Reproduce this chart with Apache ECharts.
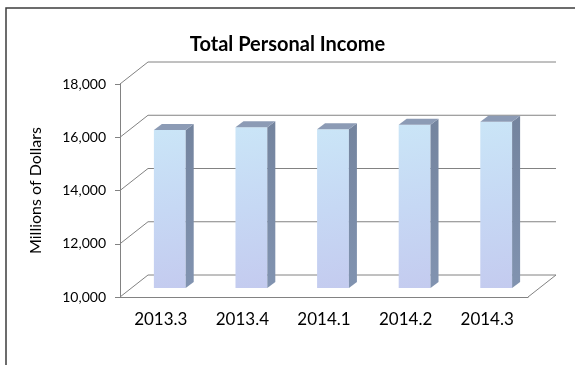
<!DOCTYPE html>
<html>
<head>
<meta charset="utf-8">
<script src="https://cdn.jsdelivr.net/npm/echarts@6/dist/echarts.min.js"></script>
<style>
  html, body { margin: 0; padding: 0; background: #fff; }
  #chart { width: 575px; height: 365px; }
</style>
</head>
<body>
<div id="chart"></div>
<script>
// Quarterly total personal income, millions of dollars
const quarters = ['2013.3', '2013.4', '2014.1', '2014.2', '2014.3'];
const income = [15930, 16040, 15960, 16130, 16240];
const yTicks = [10000, 12000, 14000, 16000, 18000];

const FONT = 'Lato, "Open Sans", sans-serif';
const GRID_COLOR = '#828282';

// oblique projection of the chart's depth
const WALL_DX = 28, WALL_DY = -22;   // back wall offset
const BAR_OX = 9, BAR_OY = -9;       // bar front face offset
const BAR_DX = 8, BAR_DY = -6;       // bar depth

const chart = echarts.init(document.getElementById('chart'), null, { renderer: 'canvas' });

function renderWall(params, api) {
  const cs = params.coordSys;
  const v = api.value(1);
  const y = api.coord([0, v])[1];
  const left = cs.x, right = cs.x + cs.width;
  const pts = [[left, y], [left + WALL_DX, y + WALL_DY], [right + WALL_DX, y + WALL_DY]];
  if (v === yTicks[0]) pts.push([right, y]);
  return {
    type: 'polyline',
    shape: { points: pts },
    style: { stroke: GRID_COLOR, lineWidth: 1, fill: null },
    silent: true
  };
}

function renderBar(params, api) {
  const i = api.value(0);
  const v = api.value(1);
  const base = api.coord([i, yTicks[0]]);
  const top = api.coord([i, v]);
  const band = api.size([1, 0])[0];
  const w = band * 0.39;
  const fl = base[0] - w / 2 + BAR_OX;
  const fr = fl + w;
  const ft = top[1] + BAR_OY;
  const fb = base[1] + BAR_OY;
  return {
    type: 'group',
    children: [
      {
        type: 'rect',
        shape: { x: fl, y: ft, width: w, height: fb - ft },
        style: {
          fill: new echarts.graphic.LinearGradient(0, 0, 1, 1, [
            { offset: 0, color: '#cae5f7' },
            { offset: 0.5, color: '#c6d8f4' },
            { offset: 1, color: '#c4cbef' }
          ])
        }
      },
      {
        type: 'polygon',
        shape: { points: [[fr, fb], [fr, ft], [fr + BAR_DX, ft + BAR_DY], [fr + BAR_DX, fb + BAR_DY]] },
        style: {
          fill: new echarts.graphic.LinearGradient(0, 0, 0, 1, [
            { offset: 0, color: '#74849e' },
            { offset: 1, color: '#8193b0' }
          ])
        }
      },
      {
        type: 'polygon',
        shape: { points: [[fl, ft], [fr, ft], [fr + BAR_DX, ft + BAR_DY], [fl + BAR_DX, ft + BAR_DY]] },
        style: { fill: '#8c9bb5' }
      }
    ]
  };
}

chart.setOption({
  backgroundColor: '#ffffff',
  animation: false,
  title: {
    text: 'Total Personal Income',
    left: 'center',
    top: 30,
    textStyle: { fontFamily: FONT, fontSize: 20, fontWeight: 'bold', color: '#000' }
  },
  graphic: [{
    type: 'rect',
    shape: { x: 6, y: 8, width: 620, height: 420 },
    style: { fill: null, stroke: '#3c3c3c', lineWidth: 1.5 },
    silent: true
  }],
  grid: { left: 120, right: 47, top: 84, bottom: 68 },
  xAxis: {
    type: 'category',
    data: quarters,
    axisLine: { lineStyle: { color: GRID_COLOR } },
    axisTick: { length: 5, lineStyle: { color: GRID_COLOR } },
    axisLabel: { fontFamily: FONT, fontSize: 17, color: '#000', margin: 14 },
    splitLine: { show: false }
  },
  yAxis: {
    type: 'value',
    min: 10000,
    max: 18000,
    interval: 2000,
    name: 'Millions of Dollars',
    nameLocation: 'middle',
    nameGap: 76,
    nameTextStyle: { fontFamily: FONT, fontSize: 16, color: '#000' },
    axisLine: { show: true, lineStyle: { color: GRID_COLOR } },
    axisTick: { show: true, length: 5, lineStyle: { color: GRID_COLOR } },
    axisLabel: {
      fontFamily: FONT, fontSize: 14, color: '#000', margin: 14,
      formatter: v => v.toLocaleString('en-US')
    },
    splitLine: { show: false }
  },
  series: [
    {
      type: 'custom',
      name: 'wall',
      renderItem: renderWall,
      data: yTicks.map(v => [0, v]),
      encode: { x: 0, y: 1 },
      z: 1,
      silent: true
    },
    {
      type: 'custom',
      name: 'Total Personal Income',
      renderItem: renderBar,
      data: income.map((v, i) => [i, v]),
      encode: { x: 0, y: 1 },
      z: 2
    }
  ]
});
</script>
</body>
</html>
